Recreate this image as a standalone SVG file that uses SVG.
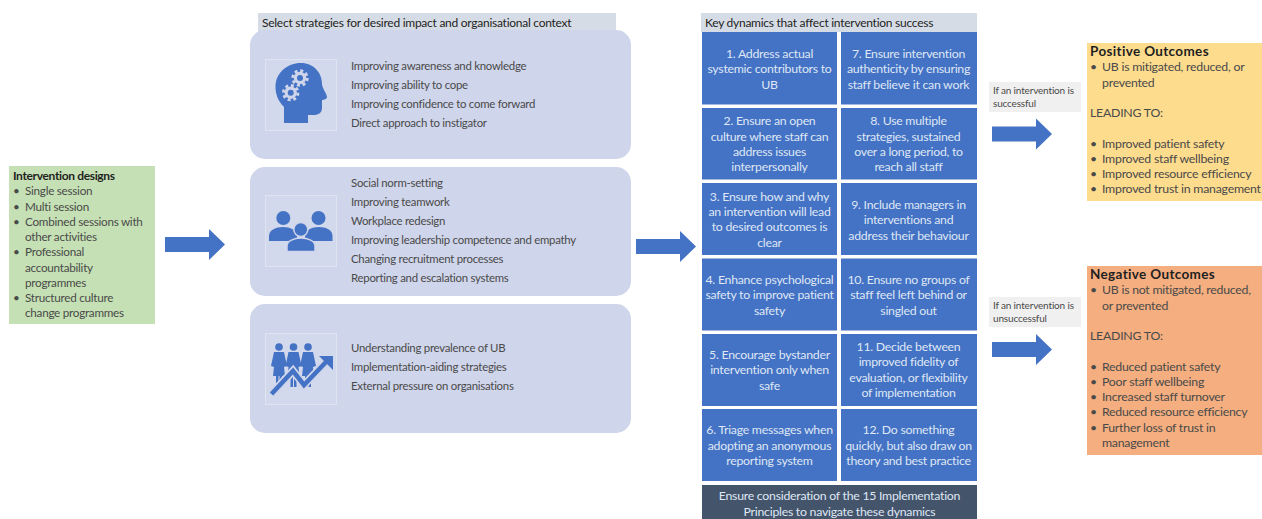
<svg xmlns="http://www.w3.org/2000/svg" width="1262" height="519" viewBox="0 0 1262 519">
<style>
text{font-family:Lato,"Open Sans","Liberation Sans",sans-serif;fill:#4a4a4a;font-size:11.4px;letter-spacing:-.26px}
.t{fill:#1f1f1f;font-weight:700;font-size:13.5px;letter-spacing:.35px}
.td{fill:#1f1f1f;font-weight:700;font-size:12px;letter-spacing:-.35px}
.h{fill:#1f1f1f;font-size:12px}
.s{font-size:11.7px}
.o{font-size:12.3px;letter-spacing:-.24px}
.c{fill:#dfe7f5;font-size:12.3px;text-anchor:middle}
.l{font-size:10px;letter-spacing:-.17px}
.panel{fill:#cfd5ea}
.ib{fill:#d3d9ec;stroke:#e0e4f2;stroke-width:1}
.hd{fill:#d6dce5}
.cell{fill:#4472c4}
.ic{fill:#4472c4}
.lb{fill:#f0f0f0}
.a{fill:#4472c4}
</style>
<defs>
<path id="ar" class="a" d="M0 8H44V0L60 15.500 44 31V23H0Z"/>
<g id="gear"><circle r="6.200" class="panel"/><circle r="7.200" fill="none" stroke="#cfd5ea" stroke-width="3" stroke-dasharray="3 2.650"/><circle r="3" class="ic"/></g>
<path id="bd" class="ic" d="M-5 -4h10l3 14 -3 1 1 9h-3v11h-2.500v-11h-1v11h-2.500v-11h-3l1 -9 -3 -1z"/>
</defs>

<g id="intervention-designs">
<rect x="9" y="166" width="146" height="158" fill="#c5e0b4"/>
<text class="td" x="13" y="180">Intervention designs</text>
<g id="id-bullets">
<text class="s" x="13" y="195">•</text><text class="s" x="25" y="195">Single session</text>
<text class="s" x="13" y="210.500">•</text><text class="s" x="25" y="210.500">Multi session</text>
<text class="s" x="13" y="225.500">•</text><text class="s" x="25" y="225.500">Combined sessions with</text>
<text class="s" x="25" y="241">other activities</text>
<text class="s" x="13" y="256">•</text><text class="s" x="25" y="256">Professional</text>
<text class="s" x="25" y="271.500">accountability</text>
<text class="s" x="25" y="286.500">programmes</text>
<text class="s" x="13" y="301.500">•</text><text class="s" x="25" y="301.500">Structured culture</text>
<text class="s" x="25" y="316.500">change programmes</text>
</g>
</g>

<g id="strategies">
<rect class="hd" x="258" y="13" width="358" height="22"/>
<text class="h" x="262" y="27">Select strategies for desired impact and organisational context</text>
</g>

<g id="strategy-individual">
<rect class="panel" x="250" y="30" width="381" height="129" rx="15"/>
<rect class="ib" x="265.500" y="59.500" width="71" height="71"/>
<path class="ic" d="M284 123V107C278 101 275.500 94 275.500 87 275.500 73 287 63 301 63 314 63 322 73 322 84 322 88 327 94 327 97 327 99 324 100 322 100V108C322 113 318 115 314 115H308V123Z"/>
<use href="#gear" x="300" y="78"/>
<use href="#gear" x="290.700" y="92.700"/>
<text x="351" y="70">Improving awareness and knowledge</text>
<text x="351" y="89">Improving ability to cope</text>
<text x="351" y="108">Improving confidence to come forward</text>
<text x="351" y="127">Direct approach to instigator</text>
</g>

<g id="strategy-team">
<rect class="panel" x="250" y="167" width="381" height="129" rx="15"/>
<rect class="ib" x="265.500" y="195.500" width="71" height="71"/>
<circle class="ic" cx="283.300" cy="218" r="7"/>
<circle class="ic" cx="318.500" cy="218" r="7"/>
<path class="ic" d="M269 241V236C269 230 276 227 283 227 290 227 297 230 297 236V241Z"/>
<path class="ic" d="M305 241V236C305 230 312 227 319 227 326 227 332.500 230 332.500 236V241Z"/>
<circle class="ic" cx="300.800" cy="229.500" r="7" stroke="#cfd5ea" stroke-width="1.500"/>
<path class="ic" stroke="#cfd5ea" stroke-width="1.500" d="M287 251.500V246C287 241 294 238 301 238 308 238 315 241 315 246V251.500Z"/>
<text x="351" y="187">Social norm-setting</text>
<text x="351" y="206">Improving teamwork</text>
<text x="351" y="225">Workplace redesign</text>
<text x="351" y="244">Improving leadership competence and empathy</text>
<text x="351" y="262.500">Changing recruitment processes</text>
<text x="351" y="281.500">Reporting and escalation systems</text>
</g>

<g id="strategy-organisation">
<rect class="panel" x="250" y="304" width="381" height="129" rx="15"/>
<rect class="ib" x="265.500" y="333.500" width="71" height="71"/>
<circle class="ic" cx="279" cy="347" r="3.800"/>
<circle class="ic" cx="293.500" cy="347" r="3.800"/>
<circle class="ic" cx="308" cy="347" r="3.800"/>
<use href="#bd" x="279" y="356"/>
<use href="#bd" x="293.500" y="356"/>
<use href="#bd" x="308" y="356"/>
<path d="M271.500 394L293 371 304 385 326 362" fill="none" stroke="#cfd5ea" stroke-width="8"/>
<path d="M271.500 394L293 371 304 385 326 362" fill="none" stroke="#4472c4" stroke-width="4.500"/>
<path class="ic" d="M319 356H333V370Z"/>
<text x="351" y="352">Understanding prevalence of UB</text>
<text x="351" y="371">Implementation-aiding strategies</text>
<text x="351" y="390">External pressure on organisations</text>
</g>

<g id="key-dynamics">
<rect class="hd" x="701" y="13" width="276" height="19"/>
<text class="h" x="705" y="27">Key dynamics that affect intervention success</text>
</g>

<g id="dynamic-1"><rect class="cell" x="702" y="32" width="135" height="72.500"/><text class="c" x="769.500" y="58">1. Address actual</text><text class="c" x="769.500" y="73">systemic contributors to</text><text class="c" x="769.500" y="89">UB</text></g>
<g id="dynamic-2"><rect class="cell" x="702" y="108" width="135" height="71.500"/><text class="c" x="769.500" y="125">2. Ensure an open</text><text class="c" x="769.500" y="140.500">culture where staff can</text><text class="c" x="769.500" y="156">address issues</text><text class="c" x="769.500" y="171">interpersonally</text></g>
<g id="dynamic-3"><rect class="cell" x="702" y="183" width="135" height="72"/><text class="c" x="769.500" y="200.500">3. Ensure how and why</text><text class="c" x="769.500" y="216">an intervention will lead</text><text class="c" x="769.500" y="231">to desired outcomes is</text><text class="c" x="769.500" y="246.500">clear</text></g>
<g id="dynamic-4"><rect class="cell" x="702" y="258.500" width="135" height="72"/><text class="c" x="769.500" y="284">4. Enhance psychological</text><text class="c" x="769.500" y="299">safety to improve patient</text><text class="c" x="769.500" y="315">safety</text></g>
<g id="dynamic-5"><rect class="cell" x="702" y="334" width="135" height="72"/><text class="c" x="769.500" y="359">5. Encourage bystander</text><text class="c" x="769.500" y="374">intervention only when</text><text class="c" x="769.500" y="390">safe</text></g>
<g id="dynamic-6"><rect class="cell" x="702" y="409" width="135" height="72"/><text class="c" x="769.500" y="434">6. Triage messages when</text><text class="c" x="769.500" y="450">adopting an anonymous</text><text class="c" x="769.500" y="465">reporting system</text></g>
<g id="dynamic-7"><rect class="cell" x="841" y="32" width="136" height="72.500"/><text class="c" x="908.500" y="58">7. Ensure intervention</text><text class="c" x="908.500" y="73">authenticity by ensuring</text><text class="c" x="908.500" y="89">staff believe it can work</text></g>
<g id="dynamic-8"><rect class="cell" x="841" y="108" width="136" height="71.500"/><text class="c" x="908.500" y="125">8. Use multiple</text><text class="c" x="908.500" y="140.500">strategies, sustained</text><text class="c" x="908.500" y="156">over a long period, to</text><text class="c" x="908.500" y="171">reach all staff</text></g>
<g id="dynamic-9"><rect class="cell" x="841" y="183" width="136" height="72"/><text class="c" x="908.500" y="209">9. Include managers in</text><text class="c" x="908.500" y="224">interventions and</text><text class="c" x="908.500" y="240">address their behaviour</text></g>
<g id="dynamic-10"><rect class="cell" x="841" y="258.500" width="136" height="72"/><text class="c" x="908.500" y="284">10. Ensure no groups of</text><text class="c" x="908.500" y="299">staff feel left behind or</text><text class="c" x="908.500" y="315">singled out</text></g>
<g id="dynamic-11"><rect class="cell" x="841" y="334" width="136" height="72"/><text class="c" x="908.500" y="351">11. Decide between</text><text class="c" x="908.500" y="366">improved fidelity of</text><text class="c" x="908.500" y="382">evaluation, or flexibility</text><text class="c" x="908.500" y="397">of implementation</text></g>
<g id="dynamic-12"><rect class="cell" x="841" y="409" width="136" height="72"/><text class="c" x="908.500" y="434">12. Do something</text><text class="c" x="908.500" y="450">quickly, but also draw on</text><text class="c" x="908.500" y="465">theory and best practice</text></g>
<g id="principles"><rect x="702" y="485" width="275" height="34" fill="#44546a"/><text class="c" x="839.500" y="500">Ensure consideration of the 15 Implementation</text><text class="c" x="839.500" y="515.500">Principles to navigate these dynamics</text></g>

<g id="label-successful"><rect class="lb" x="989" y="82" width="92" height="30"/><text class="l" x="993" y="94">If an intervention is</text><text class="l" x="993" y="107">successful</text></g>
<g id="label-unsuccessful"><rect class="lb" x="989" y="297" width="92" height="30"/><text class="l" x="993" y="309">If an intervention is</text><text class="l" x="993" y="322">unsuccessful</text></g>

<g id="positive-outcomes">
<rect x="1087" y="43" width="175" height="158" fill="#fedc8e"/>
<text class="t" x="1090" y="56">Positive Outcomes</text>
<text class="o" x="1090" y="71">•</text><text class="o" x="1102" y="71">UB is mitigated, reduced, or</text>
<text class="o" x="1102" y="87">prevented</text>
<text class="o" x="1090" y="117">LEADING TO:</text>
<text class="o" x="1090" y="148">•</text><text class="o" x="1102" y="148">Improved patient safety</text>
<text class="o" x="1090" y="163">•</text><text class="o" x="1102" y="163">Improved staff wellbeing</text>
<text class="o" x="1090" y="178">•</text><text class="o" x="1102" y="178">Improved resource efficiency</text>
<text class="o" x="1090" y="193">•</text><text class="o" x="1102" y="193">Improved trust in management</text>
</g>

<g id="negative-outcomes">
<rect x="1087" y="266" width="175" height="189" fill="#f4ae7f"/>
<text class="t" x="1090" y="279">Negative Outcomes</text>
<text class="o" x="1090" y="294">•</text><text class="o" x="1102" y="294">UB is not mitigated, reduced,</text>
<text class="o" x="1102" y="310">or prevented</text>
<text class="o" x="1090" y="340">LEADING TO:</text>
<text class="o" x="1090" y="371">•</text><text class="o" x="1102" y="371">Reduced patient safety</text>
<text class="o" x="1090" y="386">•</text><text class="o" x="1102" y="386">Poor staff wellbeing</text>
<text class="o" x="1090" y="401">•</text><text class="o" x="1102" y="401">Increased staff turnover</text>
<text class="o" x="1090" y="416">•</text><text class="o" x="1102" y="416">Reduced resource efficiency</text>
<text class="o" x="1090" y="432">•</text><text class="o" x="1102" y="432">Further loss of trust in</text>
<text class="o" x="1102" y="447">management</text>
</g>

<g id="connectors">
<use href="#ar" x="165" y="229"/>
<use href="#ar" x="636" y="231"/>
<use href="#ar" x="992" y="118.500"/>
<use href="#ar" x="992" y="334"/>
</g>
</svg>
